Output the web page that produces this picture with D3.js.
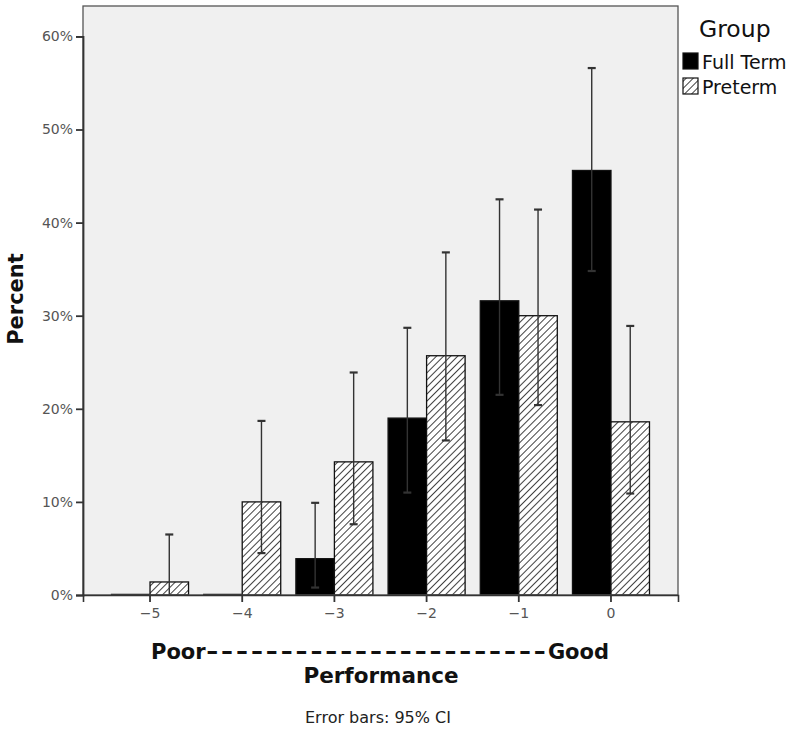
<!DOCTYPE html>
<html><head><meta charset="utf-8">
<script src="https://cdn.jsdelivr.net/npm/d3@7"></script>
<style>body{margin:0;background:#fff;}svg{display:block;font-family:"DejaVu Sans",sans-serif;}</style>
</head><body>
<svg id="c" width="800" height="735"></svg>
<script>
const categories = ["-5","-4","-3","-2","-1","0"];
const tickLabels = ["\u22125","\u22124","\u22123","\u22122","\u22121","0"];
const groups = ["Full Term","Preterm"];
const fullTerm = [0, 0, 3.9, 19.0, 31.6, 45.6];
const fullTermLo = [0, 0, 0.8, 11.0, 21.5, 34.8];
const fullTermHi = [0, 0, 9.9, 28.7, 42.5, 56.6];
const preterm = [1.4, 10.0, 14.3, 25.7, 30.0, 18.6];
const pretermLo = [0, 4.5, 7.6, 16.6, 20.4, 10.9];
const pretermHi = [6.5, 18.7, 23.9, 36.8, 41.4, 28.9];
const yTicks = [0,10,20,30,40,50,60];

const svg = d3.select("#c");
const L = 83, R = 678, T = 6, B = 595;
const FONT = "DejaVu Sans, sans-serif";

const defs = svg.append("defs");
const pat = defs.append("pattern").attr("id","hatch").attr("patternUnits","userSpaceOnUse")
  .attr("width",5).attr("height",5).attr("patternTransform","rotate(45)");
pat.append("rect").attr("width",5).attr("height",5).attr("fill","#fff");
pat.append("line").attr("x1",0).attr("y1",0).attr("x2",0).attr("y2",5).attr("stroke","#111").attr("stroke-width",1.6);

const x = d3.scaleBand().domain(categories).range([L,R]).paddingOuter(0.227).paddingInner(0);
const xg = d3.scaleBand().domain(groups).range([0, x.bandwidth()]).paddingInner(0).paddingOuter(0.197);
const y = d3.scaleLinear().domain([0,60]).range([B, B-6*93.1]);

svg.append("rect").attr("x",L).attr("y",T).attr("width",R-L).attr("height",B-T).attr("fill","#f0f0f0");

const series = [
  {g:"Full Term", v:fullTerm, lo:fullTermLo, hi:fullTermHi, fill:"#000"},
  {g:"Preterm", v:preterm, lo:pretermLo, hi:pretermHi, fill:"url(#hatch)"}
];

series.forEach(s => {
  const gSel = svg.append("g");
  gSel.selectAll("rect").data(categories).join("rect")
    .attr("x", (c)=> x(c)+xg(s.g))
    .attr("y", (c,i)=> y(s.v[i]) - (s.v[i] === 0 ? 0.6 : 0))
    .attr("width", xg.bandwidth())
    .attr("height", (c,i)=> Math.max(y(0)-y(s.v[i]), 0.6))
    .attr("fill", s.fill).attr("stroke","#111").attr("stroke-width",1.3);
});
series.forEach(s => {
  const gSel = svg.append("g").attr("stroke","#333").attr("stroke-width",1.4);
  categories.forEach((c,i) => {
    if (s.hi[i] <= 0) return;
    const cx = x(c)+xg(s.g)+xg.bandwidth()/2;
    gSel.append("line").attr("x1",cx).attr("x2",cx).attr("y1",y(s.lo[i])).attr("y2",y(s.hi[i]));
    gSel.append("line").attr("x1",cx-4).attr("x2",cx+4).attr("y1",y(s.hi[i])).attr("y2",y(s.hi[i])).attr("stroke-width",2.2);
    if (s.lo[i] > 0) gSel.append("line").attr("x1",cx-4).attr("x2",cx+4).attr("y1",y(s.lo[i])).attr("y2",y(s.lo[i])).attr("stroke-width",2.2);
  });
});

// frame
svg.append("rect").attr("x",L).attr("y",T).attr("width",R-L).attr("height",B-T).attr("fill","none").attr("stroke","#555").attr("stroke-width",1.3);

// y axis
const yAxis = d3.axisLeft(y).tickValues(yTicks).tickFormat(d=>d+"%").tickSize(7).tickPadding(3);
const ya = svg.append("g").attr("transform",`translate(${L},0)`).call(yAxis);
ya.attr("font-family",FONT).attr("font-size",14);
ya.select(".domain").attr("stroke","#333").attr("stroke-width",1.8);
ya.selectAll(".tick line").attr("stroke","#333").attr("stroke-width",1.8);
ya.selectAll("text").attr("fill","#555");

// x axis
const xAxis = d3.axisBottom(x).tickFormat((d,i)=>tickLabels[i]).tickSize(7).tickPadding(6);
const xa = svg.append("g").attr("transform",`translate(0,${B})`).call(xAxis);
xa.attr("font-family",FONT).attr("font-size",14);
xa.select(".domain").attr("stroke","#333").attr("stroke-width",1.6);
xa.selectAll(".tick line").attr("stroke","#333").attr("stroke-width",1.8);
xa.selectAll("text").attr("fill","#555");

// axis titles
svg.append("text").attr("transform","translate(23,299) rotate(-90)").attr("text-anchor","middle")
  .attr("font-size",21).attr("font-weight","bold").attr("fill","#111").text("Percent");
svg.append("text").attr("x",151).attr("y",659)
  .attr("font-size",21).attr("font-weight","bold").attr("fill","#111").text("Poor");
svg.append("text").attr("x",609).attr("y",659).attr("text-anchor","end")
  .attr("font-size",21).attr("font-weight","bold").attr("fill","#111").text("Good");
const sx = 1.43;
svg.append("g").attr("transform",`scale(${sx},1)`)
  .append("text").attr("x",206/sx).attr("y",659).attr("textLength",340/sx).attr("lengthAdjust","spacing")
  .attr("font-size",21).attr("font-weight","bold").attr("fill","#111").text("-----------------------");
svg.append("text").attr("x",381).attr("y",683).attr("text-anchor","middle")
  .attr("font-size",21.5).attr("font-weight","bold").attr("fill","#111").text("Performance");
svg.append("text").attr("x",378).attr("y",723).attr("text-anchor","middle")
  .attr("font-size",16).attr("fill","#222").text("Error bars: 95% CI");

// legend
svg.append("text").attr("x",699).attr("y",37).attr("font-size",23.5).attr("fill","#111").text("Group");
const lg = svg.append("g");
series.forEach((s,i) => {
  lg.append("rect").attr("x",683).attr("y",53+i*25).attr("width",15).attr("height",16)
    .attr("fill",s.fill).attr("stroke","#111").attr("stroke-width",1.2);
  lg.append("text").attr("x",702).attr("y",69+i*25).attr("font-size",19).attr("fill","#111").text(s.g);
});
</script>
</body></html>
